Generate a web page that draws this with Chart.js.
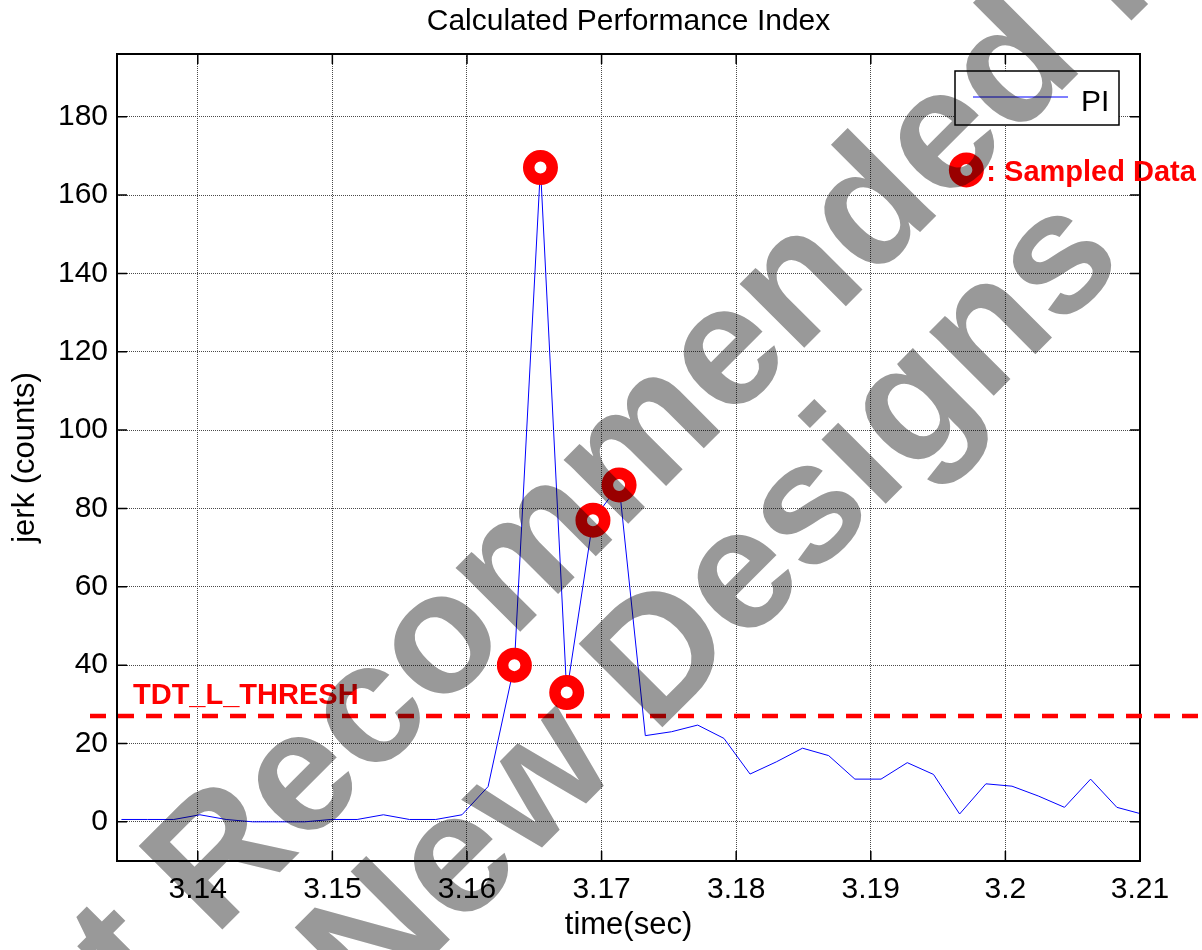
<!DOCTYPE html>
<html>
<head>
<meta charset="utf-8">
<script src="https://cdn.jsdelivr.net/npm/chart.js@4.4.1/dist/chart.umd.min.js"></script>
<style>
  body { margin: 0; background: #fff; }
  canvas { display: block; }
</style>
</head>
<body>
<canvas id="piChart" width="1202" height="950"></canvas>
<script>
// PI trace
const piTime = [3.13433, 3.13627, 3.13822, 3.14016, 3.14211, 3.14406, 3.14600, 3.14795, 3.14989, 3.15184,
                3.15379, 3.15573, 3.15768, 3.15963, 3.16157, 3.16352, 3.16546, 3.16741, 3.16936, 3.17130,
                3.17325, 3.17520, 3.17714, 3.17909, 3.18103, 3.18298, 3.18493, 3.18687, 3.18882, 3.19076,
                3.19271, 3.19466, 3.19660, 3.19855, 3.20049, 3.20244, 3.20439, 3.20633, 3.20828, 3.21023];
const piValue = [0.6, 0.6, 0.6, 1.8, 0.6, 0, 0, 0, 0.6, 0.6,
                 1.8, 0.6, 0.6, 1.8, 9, 40, 167, 33, 77, 86,
                 22, 23, 24.7, 21.3, 12.2, 15.3, 18.8, 16.9, 10.9, 10.9,
                 15.1, 12.1, 2.0, 9.7, 9.1, 6.6, 3.7, 10.9, 3.7, 1.9];

// red ring markers
const sampledTime = [3.16352, 3.16546, 3.16741, 3.16936, 3.17130];
const sampledValue = [40, 167, 33, 77, 86];

const xTicks = [3.14, 3.15, 3.16, 3.17, 3.18, 3.19, 3.2, 3.21];
const xTickLabels = ['3.14', '3.15', '3.16', '3.17', '3.18', '3.19', '3.2', '3.21'];
const yTicks = [0, 20, 40, 60, 80, 100, 120, 140, 160, 180];

const threshold = 27;
const thresholdLabel = 'TDT_L_THRESH';
const notePoint = [3.1971, 166.4];
const noteText = ': Sampled Data';
const watermark = ['Not Recommended for', 'New Designs'];

const FONT = '"Liberation Sans", Arial, sans-serif';
Chart.defaults.font.family = FONT;

function ring(ctx, x, y) {
  ctx.beginPath();
  ctx.arc(x, y, 11.75, 0, Math.PI * 2);
  ctx.fillStyle = '#fff';
  ctx.fill();
  ctx.lineWidth = 11.5;
  ctx.strokeStyle = '#ff0000';
  ctx.stroke();
}

const decorations = {
  id: 'decorations',
  afterDraw(chart) {
    const ctx = chart.ctx;
    const { left, right, top, bottom } = chart.chartArea;
    const xs = chart.scales.x, ys = chart.scales.y;
    ctx.save();

    // axes box
    ctx.strokeStyle = '#000';
    ctx.lineWidth = 2;
    ctx.strokeRect(left, top, right - left, bottom - top);

    // matlab style inward ticks
    ctx.lineWidth = 1.5;
    ctx.beginPath();
    xTicks.forEach(v => {
      const x = xs.getPixelForValue(v);
      ctx.moveTo(x, bottom); ctx.lineTo(x, bottom - 10);
      ctx.moveTo(x, top); ctx.lineTo(x, top + 10);
    });
    yTicks.forEach(v => {
      const y = ys.getPixelForValue(v);
      ctx.moveTo(left, y); ctx.lineTo(left + 10, y);
      ctx.moveTo(right, y); ctx.lineTo(right - 10, y);
    });
    ctx.stroke();

    // threshold line + label
    const ty = ys.getPixelForValue(threshold);
    ctx.strokeStyle = '#ff0000';
    ctx.lineWidth = 4.5;
    ctx.setLineDash([16, 12]);
    ctx.beginPath();
    ctx.moveTo(left - 27, ty);
    ctx.lineTo(chart.width, ty);
    ctx.stroke();
    ctx.setLineDash([]);
    ctx.fillStyle = '#ff0000';
    ctx.font = 'bold 29px ' + FONT;
    ctx.textAlign = 'left';
    ctx.textBaseline = 'alphabetic';
    ctx.fillText(thresholdLabel, left + 16, ty - 12);

    // sampled data note
    const nx = xs.getPixelForValue(notePoint[0]);
    const ny = ys.getPixelForValue(notePoint[1]);
    ring(ctx, nx, ny);
    ctx.fillStyle = '#ff0000';
    ctx.font = 'bold 29px ' + FONT;
    ctx.fillText(noteText, nx + 20, ny + 11);

    // legend box
    const piSet = chart.data.datasets[1];
    const bx = right - 185, by = top + 17, bw = 164, bh = 54;
    ctx.fillStyle = '#fff';
    ctx.fillRect(bx, by, bw, bh);
    ctx.strokeStyle = '#000';
    ctx.lineWidth = 1.5;
    ctx.strokeRect(bx, by, bw, bh);
    ctx.strokeStyle = piSet.borderColor;
    ctx.lineWidth = 1;
    ctx.beginPath();
    ctx.moveTo(bx + 18, by + 26);
    ctx.lineTo(bx + 113, by + 26);
    ctx.stroke();
    ctx.fillStyle = '#000';
    ctx.font = '30px ' + FONT;
    ctx.fillText(piSet.label, bx + 126, by + 40);

    // watermark
    ctx.globalCompositeOperation = 'multiply';
    ctx.fillStyle = 'rgb(153,153,153)';
    ctx.font = 'bold 172px ' + FONT;
    ctx.textAlign = 'center';
    ctx.translate(630, 522);
    ctx.rotate(-Math.PI / 4);
    ctx.fillText(watermark[0], 0, 0);
    ctx.fillText(watermark[1], 0, 168);
    ctx.restore();
  }
};

new Chart(document.getElementById('piChart'), {
  type: 'line',
  data: {
    datasets: [{
      label: 'Sampled Data',
      data: sampledTime.map((t, i) => ({ x: t, y: sampledValue[i] })),
      showLine: false,
      pointRadius: 11.75,
      pointHoverRadius: 11.75,
      pointBorderWidth: 11.5,
      pointBackgroundColor: '#ffffff',
      pointBorderColor: '#ff0000',
      order: 0
    }, {
      label: 'PI',
      data: piTime.map((t, i) => ({ x: t, y: piValue[i] })),
      borderColor: '#0000ff',
      borderWidth: 1,
      pointRadius: 0,
      tension: 0,
      order: 1
    }]
  },
  options: {
    responsive: false,
    animation: false,
    devicePixelRatio: 1,
    layout: { padding: { left: 0, right: 62, top: 0, bottom: 0 } },
    plugins: {
      legend: { display: false },
      tooltip: { enabled: false },
      title: {
        display: true,
        fullSize: false,
        text: 'Calculated Performance Index',
        color: '#000',
        font: { size: 30, weight: 'normal' },
        padding: { top: 4, bottom: 14 }
      }
    },
    scales: {
      x: {
        type: 'linear',
        min: 3.134,
        max: 3.21,
        afterBuildTicks: s => { s.ticks = xTicks.map(v => ({ value: v })); },
        afterFit: s => { s.height = 89; },
        ticks: {
          callback: (v, i) => xTickLabels[i],
          color: '#000',
          font: { size: 30 },
          padding: 11,
          maxRotation: 0,
          autoSkip: false
        },
        grid: { color: '#4a4a4a', lineWidth: 1, drawTicks: false },
        border: { display: false, dash: [1, 1] },
        title: {
          display: true,
          text: 'time(sec)',
          color: '#000',
          font: { size: 31 },
          padding: { top: 0, bottom: 6 }
        }
      },
      y: {
        min: -10,
        max: 196,
        afterBuildTicks: s => { s.ticks = yTicks.map(v => ({ value: v })); },
        afterFit: s => { s.width = 117; },
        ticks: {
          callback: v => String(v),
          color: '#000',
          font: { size: 30 },
          padding: 9,
          autoSkip: false
        },
        grid: { color: '#4a4a4a', lineWidth: 1, drawTicks: false },
        border: { display: false, dash: [1, 1] },
        title: {
          display: true,
          text: 'jerk (counts)',
          color: '#000',
          font: { size: 31 },
          padding: { top: 7, bottom: 0 }
        }
      }
    }
  },
  plugins: [decorations]
});
</script>
</body>
</html>
